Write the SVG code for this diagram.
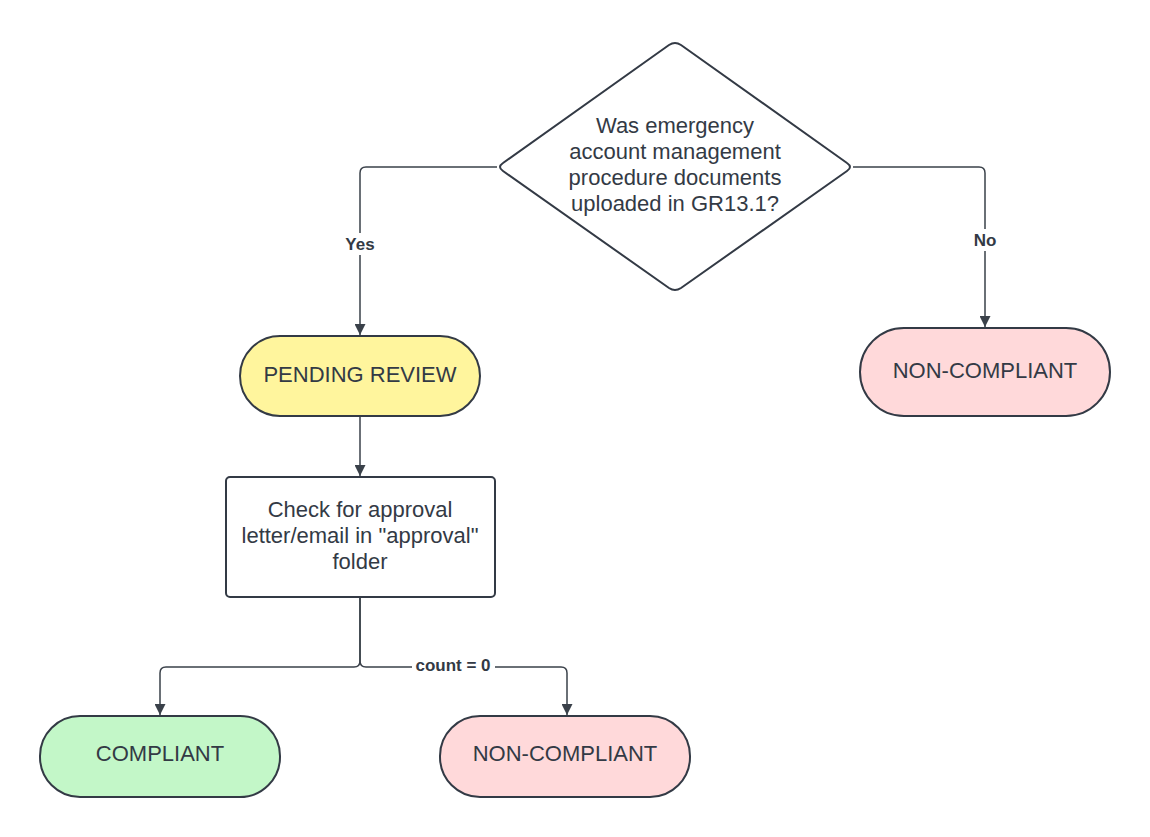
<svg xmlns="http://www.w3.org/2000/svg" width="1150" height="837" viewBox="0 0 1150 837">
  <style>
    .shape { stroke: #333a45; stroke-width: 2; }
    .txt { font-family: "Liberation Sans", Arial, sans-serif; font-size: 22px; fill: #333a45; text-anchor: middle; }
    .edge { fill: none; stroke: #3a414a; stroke-width: 1.5; }
    .lbl { font-family: "Liberation Sans", Arial, sans-serif; font-size: 17px; font-weight: bold; fill: #333a45; text-anchor: middle; }
    .lblbg { fill: #ffffff; }
  </style>
  <defs>
    <marker id="arrow" viewBox="0 0 10 10" refX="10" refY="5" markerWidth="11" markerHeight="11" markerUnits="userSpaceOnUse" orient="auto">
      <path d="M0,0 L10,5 L0,10 Z" fill="#3a414a"/>
    </marker>
  </defs>
  <rect width="1150" height="837" fill="#ffffff"/>

  <g id="connectors">
    <path class="edge" d="M497,167 H366 Q360,167 360,173 V335" marker-end="url(#arrow)"/>
    <path class="edge" d="M853,167 H979 Q985,167 985,173 V327" marker-end="url(#arrow)"/>
    <path class="edge" d="M360,416 V476" marker-end="url(#arrow)"/>
    <path class="edge" d="M360,597 V661 Q360,667 354,667 H166 Q160,667 160,673 V715" marker-end="url(#arrow)"/>
    <path class="edge" d="M360,597 V661 Q360,667 366,667 H561 Q567,667 567,673 V715" marker-end="url(#arrow)"/>
    <rect class="lblbg" x="340" y="233" width="40" height="22"/>
    <text class="lbl" x="360" y="250">Yes</text>
    <rect class="lblbg" x="970" y="229" width="30" height="22"/>
    <text class="lbl" x="985" y="246">No</text>
    <rect class="lblbg" x="412" y="655" width="83" height="20"/>
    <text class="lbl" x="453" y="671">count = 0</text>
  </g>

  <g id="decision">
    <path class="shape" fill="#ffffff" stroke-linejoin="round" d="M669,45 Q675,41 681,45 L847,163 Q853,167 847,171 L681,288 Q675,292 669,288 L503,171 Q497,167 503,163 Z"/>
    <text class="txt" x="675" y="133">Was emergency</text>
    <text class="txt" x="675" y="159">account management</text>
    <text class="txt" x="675" y="185">procedure documents</text>
    <text class="txt" x="675" y="211">uploaded in GR13.1?</text>
  </g>

  <g id="pending-review">
    <rect class="shape" x="240" y="336" width="240" height="80" rx="40" fill="#fff59d"/>
    <text class="txt" x="360" y="382">PENDING REVIEW</text>
  </g>

  <g id="non-compliant-right">
    <rect class="shape" x="860" y="328" width="250" height="88" rx="44" fill="#ffd9da"/>
    <text class="txt" x="985" y="378">NON-COMPLIANT</text>
  </g>

  <g id="check-approval">
    <rect class="shape" x="226" y="477" width="269" height="120" rx="4" fill="#ffffff"/>
    <text class="txt" x="360" y="517">Check for approval</text>
    <text class="txt" x="360" y="543">letter/email in "approval"</text>
    <text class="txt" x="360" y="569">folder</text>
  </g>

  <g id="compliant">
    <rect class="shape" x="40" y="716" width="240" height="81" rx="40" fill="#c3f7c8"/>
    <text class="txt" x="160" y="761">COMPLIANT</text>
  </g>

  <g id="non-compliant-bottom">
    <rect class="shape" x="440" y="716" width="250" height="81" rx="40" fill="#ffd9da"/>
    <text class="txt" x="565" y="761">NON-COMPLIANT</text>
  </g>
</svg>
